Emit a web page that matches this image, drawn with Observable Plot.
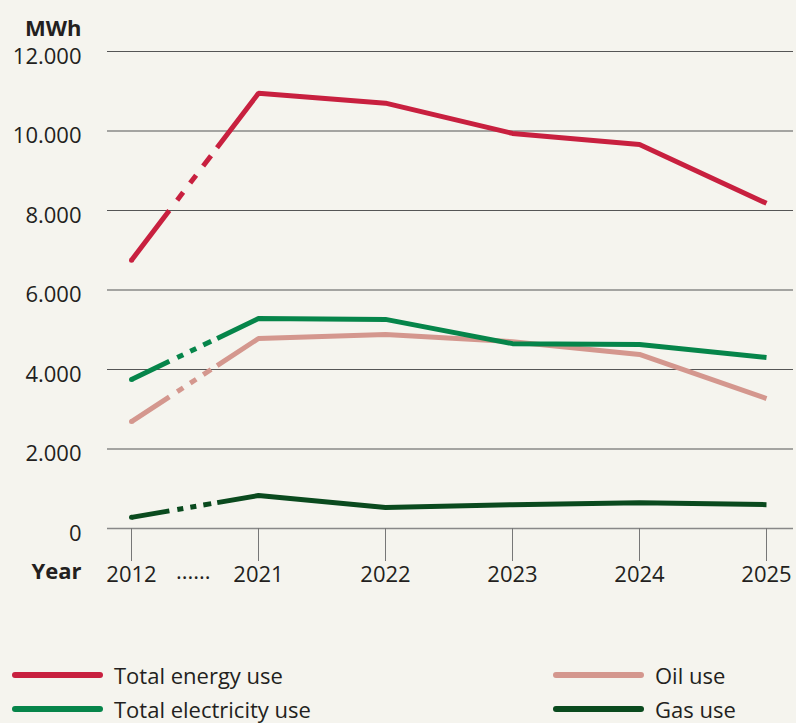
<!DOCTYPE html>
<html><head><meta charset="utf-8">
<script src="https://cdn.jsdelivr.net/npm/d3@7"></script>
<script src="https://cdn.jsdelivr.net/npm/@observablehq/plot@0.6"></script>
<style>
html,body{margin:0;padding:0;background:#f5f4ee;}
body{font-family:"Open Sans",sans-serif;color:#231f20;width:796px;overflow:hidden;}
#legend{position:relative;height:123px;width:796px;}
.item{position:absolute;display:flex;align-items:center;height:30px;font-size:22px;line-height:30px;color:#231f20;}
.sw{width:91px;height:6px;border-radius:3px;margin-right:11px;}
</style></head>
<body><div id="chart"></div><div id="legend"></div>
<script>
const years = ["2012", "2021", "2022", "2023", "2024", "2025"];
const totalEnergy = [6750, 10950, 10700, 9940, 9660, 8180];
const totalElectricity = [3750, 5280, 5260, 4650, 4630, 4300];
const oilUse = [2690, 4780, 4880, 4700, 4380, 3270];
const gasUse = [280, 830, 530, 600, 650, 600];
const seriesNames = ["Total energy use", "Total electricity use", "Oil use", "Gas use"];
const yTicks = [0, 2000, 4000, 6000, 8000, 10000, 12000];
const yUnit = "MWh";
const xLabel = "Year";
const gapMark = "......";

// styles
const colors = {"Total energy use": "#c8203f", "Total electricity use": "#06854a", "Oil use": "#d4978e", "Gas use": "#0a4a1e"};
const drawOrder = ["Gas use", "Oil use", "Total electricity use", "Total energy use"];
const W = 796, H = 600, mL = 107, mR = 3, mT = 51, mB = 72;
const xRange = [129, 767];
const FS = 22;
// dash boundaries (fraction of 2012->2021 segment)
const cuts = [0.297, 0.359, 0.406, 0.461, 0.508, 0.563, 0.625, 0.672];

const valuesBy = {"Total energy use": totalEnergy, "Total electricity use": totalElectricity, "Oil use": oilUse, "Gas use": gasUse};
const rows = seriesNames.flatMap(s => years.map((y, i) => ({series: s, year: y, value: valuesBy[s][i]})));

const xs = Plot.scale({x: {type: "point", domain: years, range: xRange, padding: 0}});
const ys = Plot.scale({y: {type: "linear", domain: [0, 12000], range: [H - mB, mT]}});
function dashFor(s) {
  const v = valuesBy[s];
  const L = Math.hypot(xs.apply(years[1]) - xs.apply(years[0]), ys.apply(v[1]) - ys.apply(v[0]));
  const arr = [cuts[0] * L];
  for (let i = 1; i < cuts.length; i++) arr.push((cuts[i] - cuts[i - 1]) * L);
  arr.push(5000, 0);
  return arr.map(d => d.toFixed(2)).join(",");
}
const fmt = d => d3.format(",")(d).replace(/,/g, ".");
const midX = (xs.apply(years[0]) + xs.apply(years[1])) / 2;

const marks = [
  Plot.ruleY(yTicks.filter(d => d > 0), {stroke: "#555", strokeWidth: 1.2}),
  Plot.ruleY([0], {stroke: "#888", strokeWidth: 1.6}),
  Plot.axisY({ticks: yTicks, tickSize: 0, tickPadding: 26, tickFormat: fmt, fontSize: FS, dy: 5, label: null, fill: "#231f20"}),
  Plot.axisX({tickSize: 33, tickPadding: 5, fontSize: FS, label: null, stroke: "#777", fill: "#231f20"}),
  Plot.text([yUnit], {frameAnchor: "top-left", dx: -26, dy: -31, textAnchor: "end", fontSize: FS, fontWeight: "bold", fill: "#231f20"}),
  Plot.text([xLabel], {frameAnchor: "bottom-left", dx: -26, dy: 50, textAnchor: "end", fontSize: FS, fontWeight: "bold", fill: "#231f20"}),
  Plot.text([gapMark], {frameAnchor: "bottom-left", dx: midX - mL, dy: 50, textAnchor: "middle", fontSize: FS, fill: "#231f20"})
];
for (const s of drawOrder) {
  const data = rows.filter(r => r.series === s);
  marks.push(Plot.line(data, {x: "year", y: "value", stroke: colors[s], strokeWidth: 5, strokeLinejoin: "miter", strokeLinecap: "butt", strokeDasharray: dashFor(s)}));
  marks.push(Plot.dot(data.slice(0, 1), {x: "year", y: "value", r: 2.5, fill: colors[s], stroke: null}));
}

const chart = Plot.plot({
  width: W, height: H, marginLeft: mL, marginRight: mR, marginTop: mT, marginBottom: mB,
  style: {background: "#f5f4ee", fontFamily: "'Open Sans', sans-serif", overflow: "visible"},
  x: {type: "point", domain: years, range: xRange, padding: 0, axis: null},
  y: {domain: [0, 12000], axis: null},
  marks
});
document.getElementById("chart").appendChild(chart);

const leg = document.getElementById("legend");
const pos = {"Total energy use": [12, 60], "Total electricity use": [12, 94], "Oil use": [553, 60], "Gas use": [553, 94]};
for (const s of seriesNames) {
  const d = document.createElement("div");
  d.className = "item";
  d.style.left = pos[s][0] + "px"; d.style.top = pos[s][1] + "px";
  d.innerHTML = `<span class="sw" style="background:${colors[s]}"></span><span>${s}</span>`;
  leg.appendChild(d);
}
</script></body></html>
